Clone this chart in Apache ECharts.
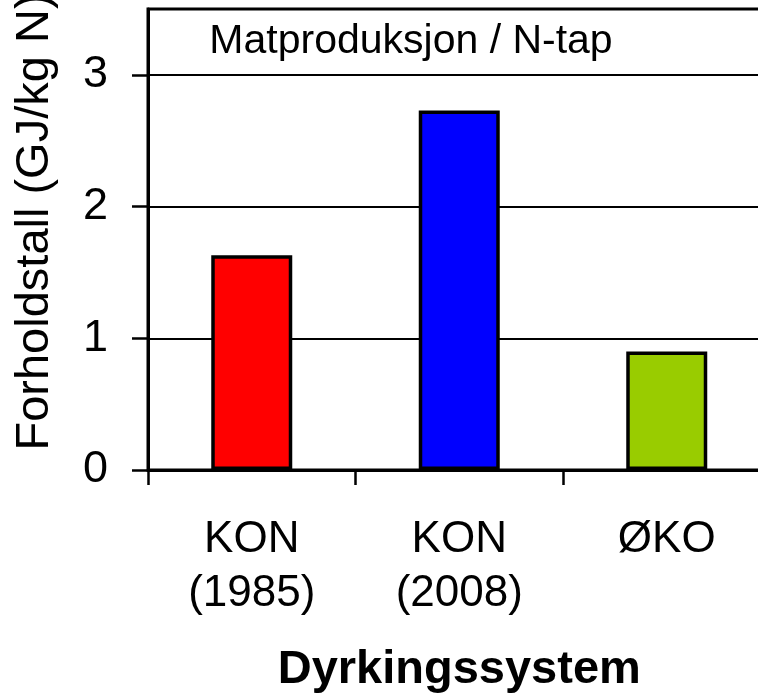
<!DOCTYPE html>
<html>
<head>
<meta charset="utf-8">
<script src="https://cdn.jsdelivr.net/npm/echarts@6/dist/echarts.min.js"></script>
<style>
  html, body { margin: 0; padding: 0; background: #ffffff; }
  #chart { width: 758px; height: 696px; }
</style>
</head>
<body>
<div id="chart"></div>
<script>
// ---- Data ----
const categories = ['KON\n(1985)', 'KON\n(2008)', 'ØKO'];
const values = [1.63, 2.73, 0.90];
const barColors = ['#ff0000', '#0000ff', '#99cc00'];
const yTickValues = [0, 1, 2, 3];
const chartTitle = 'Matproduksjon / N-tap';
const yAxisTitle = 'Forholdstall (GJ/kg N)';
const xAxisTitle = 'Dyrkingssystem';

const FONT = '"Liberation Sans", Arial, Helvetica, sans-serif';

const chart = echarts.init(document.getElementById('chart'), null, { renderer: 'canvas' });

chart.setOption({
  animation: false,
  backgroundColor: '#ffffff',
  textStyle: { fontFamily: FONT, color: '#000' },
  title: {
    text: chartTitle,
    left: 411,
    top: 21,
    padding: 0,
    textAlign: 'center',
    textStyle: { fontFamily: FONT, fontSize: 41, fontWeight: 'normal', color: '#000', lineHeight: 41 }
  },
  grid: {
    left: 148,
    width: 622.5,
    top: 9,
    height: 461,
    outerBoundsMode: 'none',
    show: true,
    borderColor: '#000',
    borderWidth: 3,
    backgroundColor: 'transparent',
    containLabel: false
  },
  xAxis: {
    type: 'category',
    data: categories,
    boundaryGap: true,
    name: xAxisTitle,
    nameLocation: 'middle',
    nameGap: 177,
    nameTextStyle: { fontFamily: FONT, fontSize: 47, fontWeight: 'bold', color: '#000', lineHeight: 47 },
    axisLine: { show: true, onZero: false, lineStyle: { color: '#000', width: 3 } },
    axisTick: { show: true, inside: false, length: 15, alignWithLabel: false, lineStyle: { color: '#000', width: 2.5 } },
    axisLabel: { fontFamily: FONT, fontSize: 44, color: '#000', lineHeight: 54, margin: 43, interval: 0 },
    splitLine: { show: false }
  },
  yAxis: {
    type: 'value',
    min: 0,
    max: 3.5,
    interval: 1,
    axisLine: { show: true, lineStyle: { color: '#000', width: 3 } },
    axisTick: { show: true, inside: false, length: 16, customValues: yTickValues, lineStyle: { color: '#000', width: 2.5 } },
    axisLabel: { fontFamily: FONT, fontSize: 45, color: '#000', margin: 40, customValues: yTickValues },
    splitLine: { show: true, lineStyle: { color: '#000', width: 2 } }
  },
  graphic: [{
    type: 'text',
    x: 35,
    y: 222,
    rotation: Math.PI / 2,
    silent: true,
    style: {
      text: yAxisTitle,
      font: '47px ' + FONT,
      fill: '#000',
      align: 'center',
      verticalAlign: 'middle',
      textAlign: 'center',
      textVerticalAlign: 'middle'
    }
  }],
  series: [{
    type: 'bar',
    data: values.map((v, i) => ({
      value: v,
      itemStyle: { color: barColors[i] }
    })),
    barWidth: 81,
    itemStyle: { borderColor: '#000', borderWidth: 3.5 },
    label: { show: false }
  }]
});
</script>
</body>
</html>
